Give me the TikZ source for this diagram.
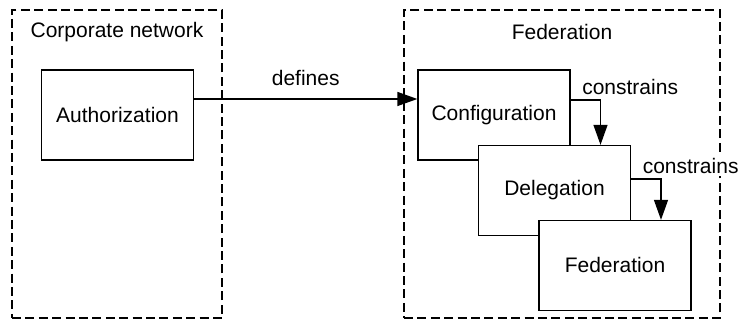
\documentclass[tikz,border=0pt]{standalone}
\usepackage{fontspec}
\setmainfont{Liberation Sans}
\usetikzlibrary{arrows.meta,positioning,calc}
\tikzset{
	box/.style={draw,fill=white,line width=0.65pt,minimum width=76pt,minimum height=45pt,inner sep=0pt},
	zone/.style={draw,line width=1.3pt,dash pattern=on 4.5pt off 2.2pt,inner sep=0pt},
	flow/.style={-{Triangle[length=10pt,width=7pt]},line width=0.65pt},
	tag/.style={fill=white,inner sep=1.5pt}
}
\begin{document}
\begin{tikzpicture}[x=0.5pt,y=-0.5pt,font=\fontsize{10.5}{12.6}\selectfont]
	\useasboundingbox (0,0) rectangle (739,324);
	%%%zones
	\node[zone,minimum width=105pt,minimum height=154pt] (corp) at (117,164) {};
	\node[zone,minimum width=158pt,minimum height=154pt] (fedzone) at (562,164) {};
	\node (corptitle) at (117,32) {Corporate network};
	\node (fedtitle) at (562,32) {Federation};
	
	%%%boxes
	\node[box] (auth) at (117.5,115) {Authorization};
	\node[box] (conf) at (494,115) {Configuration};
	\node[box] (deleg) at (554.5,190.5) {Delegation};
	\node[box] (fed) at (615,265.5) {Federation};
	
	%%%arrows
	\draw[flow] ([yshift=8pt]auth.east) -- node[above=3pt] (deflbl) {defines} ([yshift=8pt]conf.west);
	\draw[flow] ([yshift=7.5pt]conf.east) -| node[pos=0,tag,anchor=south west,xshift=4pt,yshift=1pt] (con1) {constrains} ([xshift=23pt]deleg.north);
	\draw[flow] ([yshift=5.75pt]deleg.east) -| node[pos=0,tag,anchor=south west,xshift=4pt,yshift=1pt] (con2) {constrains} ([xshift=23pt]fed.north);
\end{tikzpicture}
\end{document}
